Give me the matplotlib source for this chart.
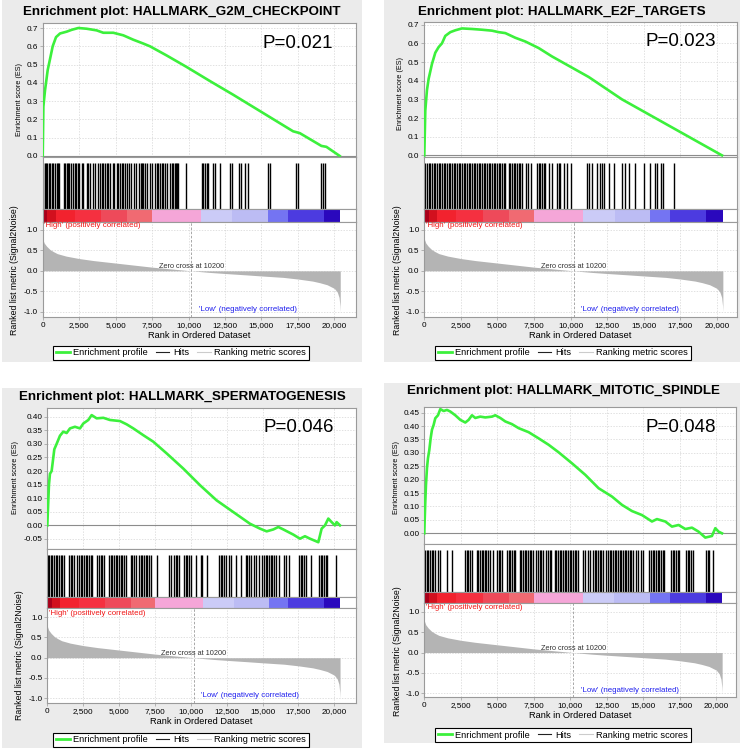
import matplotlib
matplotlib.use('Agg')
import matplotlib.pyplot as plt
from matplotlib.patches import Rectangle
from matplotlib.lines import Line2D
from matplotlib.ticker import MultipleLocator, FuncFormatter

W, H = 745, 751
plt.rcParams['font.family'] = ['Liberation Sans', 'DejaVu Sans']

# ---- data ----
titles = ['Enrichment plot: HALLMARK_G2M_CHECKPOINT',
          'Enrichment plot: HALLMARK_E2F_TARGETS',
          'Enrichment plot: HALLMARK_SPERMATOGENESIS',
          'Enrichment plot: HALLMARK_MITOTIC_SPINDLE']
pvalues = ['P=0.021', 'P=0.023', 'P=0.046', 'P=0.048']
zero_cross = 10200

# ranked list metric (same ranked list in all four plots)
metric_rank = [0, 100, 270, 500, 730, 1000, 1600, 2500, 3500, 5000, 6500, 7500,
               9000, 10200, 11500, 12500, 14000, 15000, 16500, 17500, 18500,
               19000, 19500, 20000, 20200, 20320, 20380, 20400]
metric_val = [0.78, 0.68, 0.6, 0.52, 0.47, 0.42, 0.36, 0.3, 0.25, 0.19, 0.13, 0.09,
              0.04, 0.0, -0.04, -0.065, -0.1, -0.125, -0.16, -0.2, -0.25,
              -0.29, -0.34, -0.43, -0.52, -0.65, -0.85, -1.0]

# colour bar bands along the ranked list
cbar_edges = [0, 300, 900, 2200, 4000, 5800, 7500, 10850, 13000, 15450, 16800, 19270, 20400]
cbar_colors = ['#a8001a', '#d2101e', '#f2222e', '#f53040', '#ee4a5a', '#f06a72',
               '#f5a6d8', '#cbcbf7', '#bcbcf4', '#7474f2', '#4c3be0', '#2a08bd']

# running enrichment scores
g2m_rank = [0, 46, 160, 228, 342, 502, 685, 913, 1187, 1644, 1986, 2443, 3014, 3699,
            4155, 4840, 5525, 6210, 6895, 7352, 8493, 9863, 11461, 13059, 15114,
            17168, 17625, 19109, 19451, 20365]
g2m_es = [0, 0.27, 0.36, 0.40, 0.47, 0.53, 0.60, 0.65, 0.67, 0.68, 0.69, 0.70, 0.696, 0.687,
          0.674, 0.674, 0.66, 0.636, 0.615, 0.60, 0.55, 0.487, 0.41, 0.335, 0.235,
          0.135, 0.125, 0.055, 0.05, 0.0]

e2f_rank = [0, 23, 68, 182, 296, 524, 752, 980, 1207, 1435, 1777, 2119, 2574, 3258,
            3941, 4624, 5080, 5536, 6219, 6902, 7813, 8725, 9408, 11230, 13508, 15786,
            18064, 20343]
e2f_es = [0, 0.08, 0.24, 0.35, 0.41, 0.49, 0.55, 0.58, 0.60, 0.64, 0.66, 0.67, 0.68, 0.677,
          0.673, 0.668, 0.66, 0.655, 0.63, 0.61, 0.575, 0.53, 0.5, 0.42, 0.3, 0.2,
          0.1, 0.0]

sperm_rank = [0, 46, 116, 186, 302, 372, 488, 650, 883, 1115, 1347, 1580, 1928, 2277,
              2509, 2857, 3090, 3438, 3903, 4367, 5064, 5529, 5993, 6690, 7387, 8316,
              9478, 10639, 11801, 12962, 14124, 14821, 15285, 15750, 16098, 16447,
              17143, 17608, 17956, 18305, 18886, 19118, 19351, 19583, 19815, 20047,
              20163, 20396]
sperm_es = [0, 0.06, 0.15, 0.19, 0.2, 0.23, 0.28, 0.3, 0.33, 0.345, 0.34, 0.357, 0.363, 0.357,
            0.375, 0.388, 0.406, 0.394, 0.396, 0.388, 0.384, 0.372, 0.357, 0.332, 0.308, 0.265,
            0.209, 0.148, 0.092, 0.049, 0.006, -0.012, -0.022, -0.015, -0.006, -0.015,
            -0.034, -0.049, -0.04, -0.049, -0.062, -0.012, 0.0, 0.025, 0.012, 0.0,
            0.012, 0.0]

spindle_rank = [0, 23, 68, 114, 183, 251, 342, 434, 525, 639, 753, 936, 1096, 1324, 1552,
                1781, 2123, 2466, 2808, 3036, 3265, 3493, 3835, 4178, 4634, 4863, 5205,
                5548, 6004, 6461, 7146, 7831, 8516, 9200, 10113, 11026, 11939, 12853,
                13538, 14222, 14908, 15593, 15935, 16506, 16963, 17419, 17876, 18332,
                18789, 19246, 19702, 19931, 20159, 20387]
spindle_es = [0, 0.044, 0.118, 0.18, 0.243, 0.28, 0.31, 0.354, 0.386, 0.404, 0.429, 0.44,
              0.463, 0.456, 0.46, 0.454, 0.44, 0.423, 0.413, 0.423, 0.44, 0.43, 0.435,
              0.432, 0.435, 0.44, 0.43, 0.417, 0.407, 0.392, 0.377, 0.354, 0.33, 0.302,
              0.261, 0.218, 0.168, 0.137, 0.106, 0.083, 0.068, 0.044, 0.053, 0.044, 0.025,
              0.031, 0.016, 0.021, 0.006, -0.016, -0.01, 0.019, 0.006, 0.0]

# hit positions (rank of each gene of the set)
g2m_hits = [46, 137, 228, 320, 411, 502, 616, 731, 845, 959, 1073, 1142, 1461, 1552, 1644,
            1758, 1826, 1918, 2100, 2192, 2283, 2397, 2511, 2671, 2785, 3014, 3128, 3242,
            3470, 3561, 3813, 3927, 4041, 4155, 4269, 4383, 4498, 4612, 4794, 4886, 5068,
            5182, 5297, 5411, 5525, 5639, 5799, 5936, 6027, 6256, 6392, 6621, 6712, 6803,
            6895, 7009, 7123, 7352, 7466, 7694, 7808, 7922, 8036, 8150, 8265, 8379, 8493,
            8721, 8835, 8949, 9041, 9132, 9223, 9292, 9817, 10890, 11004, 11118, 11232,
            11346, 11689, 11803, 12146, 12831, 12945, 13470, 13630, 13858, 14086, 15456,
            15570, 17395, 17509, 19109, 19223, 19337]
e2f_hits = [68, 182, 296, 410, 524, 638, 752, 866, 980, 1093, 1207, 1321, 1435, 1549, 1663,
            1777, 1891, 2005, 2119, 2232, 2346, 2460, 2574, 2688, 2802, 2916, 3030, 3144,
            3258, 3371, 3485, 3599, 3713, 3827, 3941, 4055, 4169, 4283, 4397, 4511, 4624,
            4738, 4852, 4966, 5080, 5194, 5308, 5422, 5536, 5763, 5877, 5991, 6105, 6219,
            6333, 6447, 6561, 6675, 6971, 7085, 7312, 7700, 7813, 7927, 8041, 8155, 8269,
            8497, 8725, 9066, 9180, 9294, 9522, 9750, 10046, 11117, 11231, 11458, 11800,
            12028, 12142, 12256, 12597, 12939, 13508, 13736, 13964, 14420, 14989, 15445,
            15741, 15900, 16196, 16287, 17039]
sperm_hits = [46, 139, 232, 349, 465, 581, 697, 814, 929, 1046, 1162, 1510, 1626, 1743, 1858,
              2091, 2206, 2323, 2440, 2555, 2672, 2788, 2904, 3020, 3137, 3485, 3601, 3717,
              3833, 3949, 4298, 4414, 4530, 4646, 4763, 4878, 4995, 5111, 5227, 5343, 5460,
              5808, 5924, 6040, 6156, 6389, 6504, 6621, 6737, 6853, 6969, 7086, 7201, 7666,
              8479, 8595, 8827, 8944, 9060, 9176, 9524, 9641, 9757, 9873, 9989, 10338,
              10686, 10802, 11150, 11964, 12080, 12196, 12312, 12429, 12661, 12777, 13126,
              13473, 13822, 13938, 14055, 14170, 14403, 14519, 14752, 14984, 15100, 15216,
              15332, 15449, 15564, 15681, 15797, 15913, 16145, 16493, 16610, 16842, 17539,
              17655, 17771, 17887, 18004, 18352, 18933, 19049, 19165, 19281, 19398, 19513,
              20095]
spindle_hits = [46, 159, 273, 387, 501, 615, 729, 957, 1071, 1526, 1868, 2779, 2893, 3007,
                3121, 3235, 3576, 3690, 3804, 3918, 4032, 4146, 4260, 4374, 4488, 4715,
                4989, 5103, 5217, 5331, 5672, 5786, 5900, 6014, 6128, 6242, 6538, 6652,
                6766, 6880, 6994, 7107, 7221, 7335, 7449, 7677, 7791, 7905, 8019, 8132,
                8360, 8474, 8588, 8702, 8930, 9044, 9158, 9271, 9385, 9499, 9613, 9727,
                9841, 9955, 10069, 10183, 10296, 10410, 10524, 10866, 10980, 11208, 11322,
                11549, 11663, 11777, 11891, 12005, 12119, 12233, 12461, 12574, 12688,
                12802, 12916, 13030, 13144, 13258, 13372, 13486, 13599, 13713, 13827,
                13941, 14055, 14169, 14283, 14511, 14624, 14852, 14966, 15422, 15536,
                15650, 15764, 15877, 15991, 16105, 16219, 16333, 16447, 16902, 17016,
                17130, 17244, 17358, 17472, 17928, 18041, 18155, 18269, 18383, 19294,
                19408, 19522, 19750]

es_ranks = [g2m_rank, e2f_rank, sperm_rank, spindle_rank]
es_scores = [g2m_es, e2f_es, sperm_es, spindle_es]
hits = [g2m_hits, e2f_hits, sperm_hits, spindle_hits]

# ---- layout of each panel, in pixels ----
layouts = [
    dict(bg=(2, 0, 362, 362), x=(42.7, 356), rows=(22.7, 156.7, 209.3, 221.7, 316.7),
         xmax=21481, es_lim=(-0.004, 0.729), step=0.1, fmt='%.1f', m_lim=(-1.12, 1.2),
         title=(182, 12), p=(298, 43), esl=(20, 100), rll=(15, 270), xl=(199, 335), leg=(181, 353)),
    dict(bg=(384, 0, 740, 362), x=(424.3, 737), rows=(21.7, 156.7, 209.3, 221.7, 316.7),
         xmax=21367, es_lim=(-0.007, 0.716), step=0.1, fmt='%.1f', m_lim=(-1.12, 1.2),
         title=(562, 12), p=(681, 42), esl=(401, 93), rll=(397, 270), xl=(580, 335), leg=(563, 353)),
    dict(bg=(2, 388, 362, 748), x=(47.3, 356), rows=(408.3, 549, 596.7, 608.3, 702.7),
         xmax=21512, es_lim=(-0.087, 0.431), step=0.05, fmt='%.2f', m_lim=(-1.11, 1.22),
         title=(182, 397), p=(299, 427), esl=(16, 477), rll=(20, 655), xl=(201, 722), leg=(181, 740)),
    dict(bg=(384, 383, 740, 743), x=(424.3, 736), rows=(406.7, 544.3, 591.7, 602.7, 696.7),
         xmax=21349, es_lim=(-0.041, 0.472), step=0.05, fmt='%.2f', m_lim=(-1.08, 1.22),
         title=(563, 391), p=(681, 427), esl=(397, 478), rll=(397, 651), xl=(580, 716), leg=(563, 735)),
]

GREEN = '#3cf03c'
SPINE = '#9a9a9a'
GRID = dict(color='#d4d4d4', linestyle=(0, (2, 2)), linewidth=0.5)

fig = plt.figure(figsize=(W / 100, H / 100), dpi=100)


def px_axes(x0, y0, x1, y1):
    ax = fig.add_axes([x0 / W, 1 - y1 / H, (x1 - x0) / W, (y1 - y0) / H])
    ax.set_zorder(2)
    return ax


def fxy(x, y):
    return x / W, 1 - y / H


def style(ax):
    for s in ax.spines.values():
        s.set_color(SPINE)
        s.set_linewidth(0.8)
    ax.tick_params(length=2, width=0.5, color=SPINE, labelsize=5.9, pad=1.5)


comma = FuncFormatter(lambda v, p: '{:,}'.format(int(v)))

for i, L in enumerate(layouts):
    bx0, by0, bx1, by1 = L['bg']
    fig.patches.append(Rectangle(fxy(bx0, by1), (bx1 - bx0) / W, (by1 - by0) / H,
                                 transform=fig.transFigure, facecolor='#ebebeb',
                                 edgecolor='none', zorder=-10))
    x0, x1 = L['x']
    r0, r1, r2, r3, r4 = L['rows']

    # enrichment score panel
    ax = px_axes(x0, r0, x1, r1)
    style(ax)
    ax.plot(es_ranks[i], es_scores[i], color=GREEN, lw=1.9, zorder=3)
    ax.axhline(0, color='#8c8c8c', lw=0.8, zorder=2)
    ax.set_xlim(0, L['xmax'])
    ax.set_ylim(*L['es_lim'])
    ax.xaxis.set_major_locator(MultipleLocator(2500))
    ax.yaxis.set_major_locator(MultipleLocator(L['step']))
    ax.yaxis.set_major_formatter(FuncFormatter(lambda v, p, f=L['fmt']: f % v))
    ax.tick_params(axis='x', labelbottom=False, length=0)
    ax.grid(True, **GRID)
    ax.set_axisbelow(True)
    ax.text(*fxy(*L['p']), pvalues[i], transform=fig.transFigure, fontsize=13.5,
            ha='center', va='center')

    # hits panel
    ah = px_axes(x0, r1, x1, r2)
    style(ah)
    ah.vlines(hits[i], 0, 0.88, color='black', lw=1.0)
    ah.set_xlim(0, L['xmax'])
    ah.set_ylim(0, 1)
    ah.set_xticks([])
    ah.set_yticks([])

    # colour bar
    ac = px_axes(x0, r2, x1, r3)
    style(ac)
    spans = [(a, b - a) for a, b in zip(cbar_edges[:-1], cbar_edges[1:])]
    ac.broken_barh(spans, (0, 1), facecolors=cbar_colors)
    ac.set_xlim(0, L['xmax'])
    ac.set_ylim(0, 1)
    ac.set_xticks([])
    ac.set_yticks([])

    # ranked list metric
    am = px_axes(x0, r3, x1, r4)
    style(am)
    am.fill_between(metric_rank, metric_val, 0, color='#b4b4b4', lw=0, zorder=2)
    am.axvline(zero_cross, color='#9a9a9a', lw=0.6, linestyle=(0, (3, 2)), zorder=3)
    am.set_xlim(0, L['xmax'])
    am.set_ylim(*L['m_lim'])
    am.xaxis.set_major_locator(MultipleLocator(2500))
    am.xaxis.set_major_formatter(comma)
    am.yaxis.set_major_locator(MultipleLocator(0.5))
    am.yaxis.set_major_formatter(FuncFormatter(lambda v, p: '%.1f' % v))
    am.grid(True, **GRID)
    am.set_axisbelow(True)
    am.text(zero_cross, 0.01, 'Zero cross at 10200', fontsize=5.3, ha='center',
            va='bottom', color='#333333', zorder=4)
    am.text(110, 1.1, "'High' (positively correlated)", fontsize=5.7, color='#f01818',
            ha='left', va='center')
    am.text(10700, -0.94, "'Low' (negatively correlated)", fontsize=5.7, color='#2020ee',
            ha='left', va='center')

    fig.text(*fxy(*L['title']), titles[i], fontsize=9.6, fontweight='bold',
             ha='center', va='center')
    fig.text(*fxy(*L['esl']), 'Enrichment score (ES)', fontsize=5.2, rotation=90,
             ha='center', va='center')
    fig.text(*fxy(*L['rll']), 'Ranked list metric (Signal2Noise)', fontsize=6.3,
             rotation=90, ha='center', va='center')
    fig.text(*fxy(*L['xl']), 'Rank in Ordered Dataset', fontsize=6.7,
             ha='center', va='center')

    handles = [Line2D([], [], color=GREEN, lw=2),
               Line2D([], [], color='#222222', lw=0.8),
               Line2D([], [], color='#cccccc', lw=0.8)]
    leg = fig.legend(handles, ['Enrichment profile', 'Hits', 'Ranking metric scores'],
                     loc='center', bbox_to_anchor=fxy(*L['leg']), ncol=3, fontsize=6.7,
                     frameon=True, fancybox=False, edgecolor='black', framealpha=1,
                     handlelength=1.5, handletextpad=0.4, columnspacing=0.8,
                     borderpad=0.25, borderaxespad=0)
    leg.get_frame().set_linewidth(0.8)

fig.savefig('out.png', dpi=100)
